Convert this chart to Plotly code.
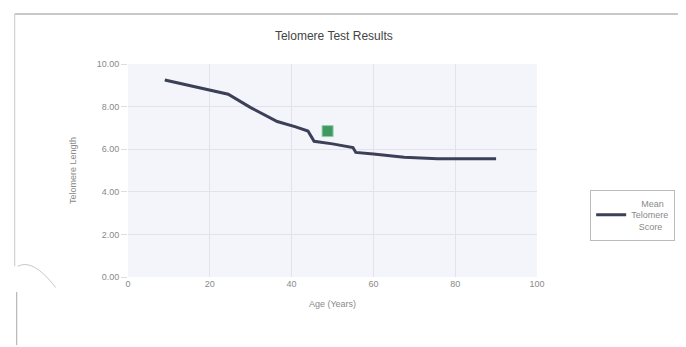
import plotly.graph_objects as go

# Mean telomere score by age
ages = [9, 16, 24.5, 30, 36.5, 41, 44, 45.5, 50, 55, 55.7, 60, 67.5, 75.7, 82, 90]
mean_scores = [9.25, 8.95, 8.58, 7.95, 7.3, 7.05, 6.85, 6.37, 6.25, 6.08, 5.85, 5.78, 5.62, 5.55, 5.55, 5.55]

# Individual test result
patient_age = [48.8]
patient_score = [6.85]

x_ticks = [0, 20, 40, 60, 80, 100]
y_ticks = [0, 2, 4, 6, 8, 10]

PW = 408.0  # plot width px
PH = 213.0  # plot height px

fig = go.Figure()
fig.add_trace(go.Scatter(
    x=ages, y=mean_scores, mode="lines",
    name="&nbsp;&nbsp;&nbsp;&nbsp;Mean<br>Telomere<br>&nbsp;&nbsp;&nbsp;Score",
    line=dict(color="#3b3f58", width=3),
))
fig.add_trace(go.Scatter(
    x=patient_age, y=patient_score, mode="markers", showlegend=False,
    marker=dict(symbol="square", size=11, color="#3f9963",
                line=dict(color="#8fd0a8", width=1)),
))

fig.update_layout(
    width=686, height=347,
    margin=dict(l=120, r=157, t=56, b=78),
    paper_bgcolor="white",
    plot_bgcolor="#f4f4fb",
    font=dict(family="Liberation Sans, Arial, sans-serif", size=9, color="#8a8a8a"),
    title=dict(text="Telomere Test Results", x=0.475, xanchor="center", y=0.92,
               yanchor="middle", font=dict(size=12, color="#444444")),
    legend=dict(x=1.13, y=0.29, xanchor="left", yanchor="middle",
                bordercolor="#bbbbbb", borderwidth=1, bgcolor="white",
                font=dict(size=9, color="#8a8a8a")),
    xaxis=dict(range=[0, 100], tickvals=x_ticks, showgrid=True,
               gridcolor="#e2e2ee", zeroline=False, ticks="",
               title=dict(text="Age (Years)", font=dict(size=9, color="#8a8a8a"), standoff=12)),
    yaxis=dict(range=[0, 10], tickvals=y_ticks, tickformat=".2f", showgrid=True,
               gridcolor="#e2e2ee", zeroline=False, ticks="outside", ticklen=6,
               tickcolor="#dddddd",
               title=dict(text="Telomere Length", font=dict(size=9, color="#8a8a8a"), standoff=18)),
    showlegend=True,
)

# screenshot frame lines (paper coords relative to plot area)
top_y = 1 + 50 / PH
fig.add_shape(type="line", xref="paper", yref="paper",
              x0=-113 / PW, x1=1.5, y0=top_y, y1=top_y,
              line=dict(color="#c8c8c8", width=2))
fig.add_shape(type="line", xref="paper", yref="paper",
              x0=-113 / PW, x1=-113 / PW, y0=top_y, y1=0.05,
              line=dict(color="#c8c8c8", width=1))
fig.add_shape(type="path", xref="paper", yref="paper",
              path=f"M {-110/PW} {0.05} Q {-95/PW} {0.09} {-72/PW} {-0.05}",
              line=dict(color="#c8c8c8", width=1))
fig.add_shape(type="line", xref="paper", yref="paper",
              x0=-111 / PW, x1=-111 / PW, y0=-0.07, y1=-0.32,
              line=dict(color="#aaaaaa", width=1))

fig.write_html("out.html")
